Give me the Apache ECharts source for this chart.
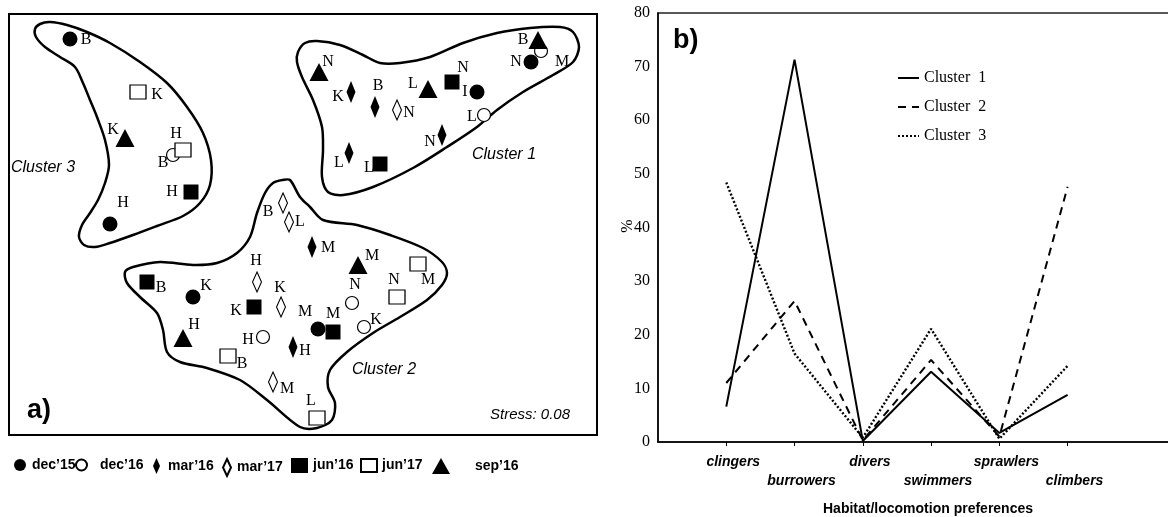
<!DOCTYPE html>
<html>
<head>
<meta charset="utf-8">
<script src="https://cdn.jsdelivr.net/npm/echarts@6/dist/echarts.min.js"></script>
<style>html,body{margin:0;background:#fff}#chart{width:1168px;height:517px}</style>
</head>
<body>
<div id="chart"></div>
<script>
// panel a - NMDS scores per sampling date: [site, axis 1, axis 2]
var dec15 = [['B',-2.32,1.85],['H',-1.92,0.00],['I',1.75,1.32],['N',2.29,1.62],['K',-1.09,-0.73],['M',0.16,-1.05]];
var dec16 = [['B',-1.29,0.69],['L',1.82,1.09],['M',2.39,1.73],['H',-0.39,-1.13],['N',0.50,-0.79],['K',0.62,-1.03]];
var mar16 = [['K',0.49,1.32],['B',0.73,1.17],['N',1.40,0.89],['L',0.47,0.71],['H',-0.09,-1.23],['M',0.10,-0.23]];
var mar17 = [['N',0.95,1.14],['B',-0.19,0.21],['L',-0.13,0.02],['H',-0.45,-0.58],['K',-0.21,-0.83],['M',-0.29,-1.58]];
var jun16 = [['H',-1.11,0.32],['N',1.50,1.42],['L',0.78,0.60],['B',-1.55,-0.58],['K',-0.48,-0.83],['M',0.31,-1.08]];
var jun17 = [['K',-1.64,1.32],['H',-1.19,0.74],['B',-0.74,-1.32],['N',0.95,-0.73],['M',1.16,-0.40],['L',0.15,-1.94]];
var sep16 = [['K',-1.77,0.86],['N',0.17,1.52],['L',1.26,1.35],['B',2.36,1.84],['H',-1.19,-1.14],['M',0.56,-0.41]];

// cluster outlines (NMDS units)
var hull1 = [[-0.04,1.72],[0.03,1.81],[0.15,1.83],[0.38,1.79],[0.61,1.69],[0.78,1.61],[0.98,1.61],[1.28,1.67],[1.61,1.81],[1.95,1.91],[2.28,1.96],[2.58,1.97],[2.71,1.92],[2.77,1.77],[2.71,1.62],[2.51,1.49],[2.21,1.32],[1.95,1.14],[1.75,0.97],[1.45,0.77],[1.11,0.56],[0.71,0.37],[0.41,0.29],[0.26,0.32],[0.20,0.47],[0.21,0.74],[0.20,0.97],[0.11,1.24],[0.00,1.47],[-0.05,1.62]];
var hull2 = [[-0.19,0.44],[-0.12,0.44],[-0.02,0.27],[0.08,0.17],[0.21,0.04],[0.55,-0.01],[0.88,-0.11],[1.21,-0.24],[1.40,-0.38],[1.45,-0.49],[1.40,-0.61],[1.25,-0.76],[0.98,-0.93],[0.71,-1.09],[0.45,-1.28],[0.28,-1.46],[0.26,-1.63],[0.33,-1.79],[0.30,-1.96],[0.15,-2.04],[-0.02,-2.03],[-0.35,-1.76],[-0.62,-1.56],[-0.95,-1.44],[-1.22,-1.38],[-1.35,-1.28],[-1.39,-1.06],[-1.45,-0.89],[-1.62,-0.73],[-1.75,-0.59],[-1.77,-0.48],[-1.69,-0.43],[-1.42,-0.38],[-1.09,-0.41],[-0.85,-0.39],[-0.65,-0.29],[-0.52,-0.13],[-0.45,0.11],[-0.37,0.31],[-0.29,0.41]];
var hull3 = [[-2.62,2.00],[-2.52,2.02],[-2.35,1.99],[-2.15,1.92],[-1.92,1.81],[-1.62,1.62],[-1.35,1.41],[-1.15,1.17],[-0.99,0.91],[-0.91,0.64],[-0.92,0.39],[-1.02,0.21],[-1.19,0.08],[-1.45,-0.02],[-1.69,-0.11],[-1.92,-0.19],[-2.07,-0.23],[-2.18,-0.21],[-2.23,-0.13],[-2.20,-0.01],[-2.12,0.11],[-2.04,0.24],[-1.97,0.41],[-1.93,0.59],[-1.97,0.84],[-2.05,1.07],[-2.12,1.24],[-2.19,1.41],[-2.27,1.57],[-2.42,1.67],[-2.57,1.77],[-2.66,1.87],[-2.67,1.95]];

// panel b - % of taxa per habitat/locomotion group
var habitats = ['clingers','burrowers','divers','swimmers','sprawlers','climbers'];
var cluster1 = [6.6, 71.3, 0.2, 13.1, 1.7, 8.8];
var cluster2 = [11.0, 26.3, 0.3, 15.3, 1.0, 47.6];
var cluster3 = [48.4, 16.5, 0.8, 21.1, 0.6, 14.2];

// where each site letter sits relative to its symbol (px)
var labelOffset = {
  'dec15 B':[16,1],'dec15 H':[13,-21],'dec15 I':[-12,0],'dec15 N':[-15,0],'dec15 K':[13,-11],'dec15 M':[-13,-17],
  'dec16 B':[-10,8],'dec16 L':[-12,2],'dec16 M':[21,11],'dec16 H':[-15,3],'dec16 N':[3,-18],'dec16 K':[12,-7],
  'mar16 K':[-13,5],'mar16 B':[3,-21],'mar16 N':[-12,7],'mar16 L':[-10,10],'mar16 H':[12,4],'mar16 M':[16,1],
  'mar17 N':[12,3],'mar17 B':[-15,9],'mar17 L':[11,0],'mar17 H':[-1,-21],'mar17 K':[-1,-19],'mar17 M':[14,7],
  'jun16 H':[-19,0],'jun16 N':[11,-14],'jun16 L':[-11,4],'jun16 B':[14,6],'jun16 K':[-18,4],'jun16 M':[0,-18],
  'jun17 K':[19,3],'jun17 H':[-7,-16],'jun17 B':[14,8],'jun17 N':[-3,-17],'jun17 M':[10,16],'jun17 L':[-6,-17],
  'sep16 K':[-12,-8],'sep16 N':[9,-10],'sep16 L':[-15,-5],'sep16 B':[-15,0],'sep16 H':[11,-13],'sep16 M':[14,-9]
};

var serif = 'Liberation Serif';
var sans = 'Liberation Sans';

function scatter(name, key, pts, symbol, size, open) {
  return {
    name: name, type: 'scatter', xAxisIndex: 0, yAxisIndex: 0,
    symbol: symbol, symbolSize: size, z: 3,
    itemStyle: open ? {color: '#fff', borderColor: '#000', borderWidth: 1.2, opacity: 1}
                    : {color: '#000', opacity: 1},
    label: {show: true, position: 'inside', formatter: '{b}', color: '#000',
            fontFamily: serif, fontSize: 16},
    emphasis: {disabled: true},
    data: pts.map(function (p) {
      return {name: p[0], value: [p[1], p[2]], label: {offset: labelOffset[key + ' ' + p[0]]}};
    })
  };
}

var scatterSeries = [
  scatter('dec’16', 'dec16', dec16, 'circle', 13, true),
  scatter('dec’15', 'dec15', dec15, 'circle', 15, false),
  scatter('mar’16', 'mar16', mar16, 'diamond', [9, 22], false),
  scatter('mar’17', 'mar17', mar17, 'diamond', [9, 20], true),
  scatter('jun’16', 'jun16', jun16, 'rect', [15, 15], false),
  scatter('jun’17', 'jun17', jun17, 'rect', [16, 14], true),
  scatter('sep’16', 'sep16', sep16, 'triangle', [19, 18], false)
];

var hulls = [hull1, hull2, hull3];
var hullSeries = {
  type: 'custom', xAxisIndex: 0, yAxisIndex: 0, silent: true, z: 1,
  data: hulls.map(function (h) { return h[0]; }),
  renderItem: function (params, api) {
    var pts = hulls[params.dataIndex].map(function (p) { return api.coord(p); });
    return {type: 'polygon', shape: {points: pts, smooth: 0.3},
            style: {fill: 'none', stroke: '#000', lineWidth: 2.5}};
  }
};

function line(name, values, dash, width) {
  return {
    name: name, type: 'line', xAxisIndex: 1, yAxisIndex: 1, symbol: 'none',
    lineStyle: {color: '#000', width: width, type: dash},
    itemStyle: {color: '#000'},
    emphasis: {disabled: true},
    data: values.map(function (v, i) { return [i, v]; })
  };
}

var legendA = [
  {name: 'dec’15', left: 14, w: 12, h: 15, pad: 1},
  {name: 'dec’16', left: 75, w: 11, h: 13, pad: 8},
  {name: 'mar’16', left: 153, w: 7, h: 16, pad: 3},
  {name: 'mar’17', left: 222, w: 8, h: 17, pad: 1},
  {name: 'jun’16', left: 291, w: 17, h: 15, pad: 0},
  {name: 'jun’17', left: 360, w: 16, h: 13, pad: 0},
  {name: 'sep’16', left: 432, w: 18, h: 16, pad: 20}
];

var legends = legendA.map(function (l) {
  return {
    data: [l.name], left: l.left, top: 458, padding: 0, selectedMode: false,
    itemWidth: l.w, itemHeight: l.h, symbolKeepAspect: false,
    textStyle: {fontFamily: sans, fontWeight: 'bold', fontSize: 14, color: '#000', padding: [0, 0, 0, l.pad]}
  };
});
legends.push({
  data: ['Cluster  1', 'Cluster  2', 'Cluster  3'], orient: 'vertical',
  left: 897, top: 70, padding: 0, selectedMode: false,
  itemWidth: 21, itemHeight: 12, itemGap: 13,
  itemStyle: {opacity: 0},
  textStyle: {fontFamily: serif, fontSize: 16, color: '#000'}
});

// habitat names are staggered on two rows, one axis per row
var labelFont = {fontFamily: sans, fontWeight: 'bold', fontStyle: 'italic', fontSize: 14, color: '#000',
                 padding: [0, 0, 0, 14], showMinLabel: true, showMaxLabel: true, hideOverlap: false,
                 formatter: function (v) { return habitats[v]; }};

var chart = echarts.init(document.getElementById('chart'));
chart.setOption({
  backgroundColor: '#fff',
  animation: false,
  legend: legends,
  grid: [
    {left: 9, top: 14, width: 588, height: 421, show: true, borderColor: '#000', borderWidth: 2, outerBoundsMode: 'none'},
    {left: 658, top: 13, right: -2, bottom: 75, show: true, borderColor: '#222', borderWidth: 1.5, outerBoundsMode: 'none'}
  ],
  xAxis: [
    {type: 'value', gridIndex: 0, min: -2.93, max: 2.95, show: false},
    {type: 'value', gridIndex: 1, min: -1, max: 6.5, position: 'bottom', offset: 0,
     axisLine: {onZero: false, lineStyle: {color: '#000', width: 1.5}},
     axisTick: {show: true, customValues: [0, 1, 2, 3, 4, 5], length: 4, lineStyle: {color: '#000'}},
     splitLine: {show: false},
     axisLabel: Object.assign({customValues: [0, 2, 4], margin: 13}, labelFont),
     name: 'Habitat/locomotion preferences', nameLocation: 'middle', nameGap: 60,
     nameTextStyle: {fontFamily: sans, fontWeight: 'bold', fontSize: 14, color: '#000', padding: [0, 0, 0, 28]}},
    {type: 'value', gridIndex: 1, min: -1, max: 6.5, position: 'bottom', offset: 0,
     axisLine: {show: false, onZero: false}, axisTick: {show: false}, splitLine: {show: false},
     axisLabel: Object.assign({customValues: [1, 3, 5], margin: 32}, labelFont)}
  ],
  yAxis: [
    {type: 'value', gridIndex: 0, min: -2.11, max: 2.10, show: false},
    {type: 'value', gridIndex: 1, min: 0, max: 80, interval: 10,
     axisLine: {show: true, onZero: false, lineStyle: {color: '#000', width: 1.5}},
     axisTick: {show: false}, splitLine: {show: false},
     axisLabel: {fontFamily: serif, fontSize: 16, color: '#000', margin: 8}}
  ],
  graphic: [
    {type: 'text', left: 27, top: 397, style: {text: 'a)', font: 'bold 27px Liberation Sans', fill: '#000'}},
    {type: 'text', left: 673, top: 27, style: {text: 'b)', font: 'bold 27px Liberation Sans', fill: '#000'}},
    {type: 'text', x: 628, y: 226, rotation: Math.PI / 2,
     style: {text: '%', font: '16px Liberation Serif', fill: '#000', align: 'center', verticalAlign: 'middle'}},
    {type: 'text', left: 11, top: 160, style: {text: 'Cluster 3', font: 'italic 16px Liberation Sans', fill: '#000'}},
    {type: 'text', left: 472, top: 147, style: {text: 'Cluster 1', font: 'italic 16px Liberation Sans', fill: '#000'}},
    {type: 'text', left: 352, top: 362, style: {text: 'Cluster 2', font: 'italic 16px Liberation Sans', fill: '#000'}},
    {type: 'text', left: 490, top: 407, style: {text: 'Stress: 0.08', font: 'italic 15px Liberation Sans', fill: '#000'}}
  ],
  series: [hullSeries].concat(scatterSeries, [
    line('Cluster  1', cluster1, 'solid', 2),
    line('Cluster  2', cluster2, [8, 6], 2),
    line('Cluster  3', cluster3, [2, 2], 2.4)
  ])
});
window.onresize = function () { chart.resize(); };
</script>
</body>
</html>
